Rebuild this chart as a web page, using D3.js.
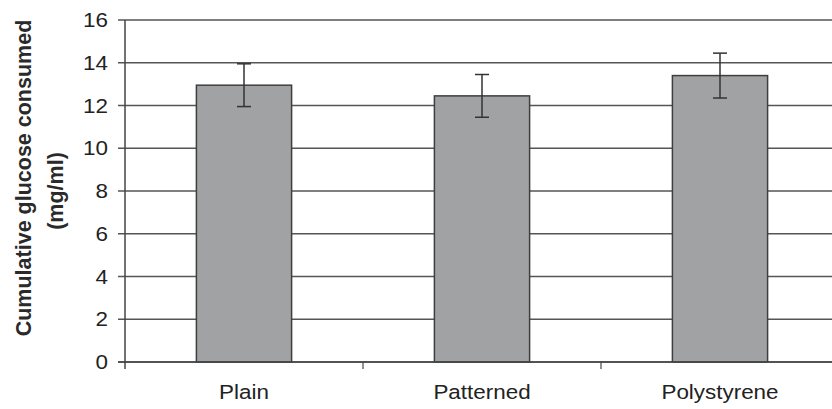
<!DOCTYPE html>
<html>
<head>
<meta charset="utf-8">
<script src="https://cdn.jsdelivr.net/npm/d3@7"></script>
<style>
  html, body { margin: 0; padding: 0; background: #fff; }
  svg { display: block; font-family: "Liberation Sans", Arial, sans-serif; }
</style>
</head>
<body>
<svg id="chart" width="832" height="409"></svg>
<script>
// Cumulative glucose consumed per substrate (mean ± error)
const categories = ["Plain", "Patterned", "Polystyrene"];
const means = [12.95, 12.45, 13.4];
const errors = [1.0, 1.0, 1.05];
const yTicks = [0, 2, 4, 6, 8, 10, 12, 14, 16];
const yLabelLines = ["Cumulative glucose consumed", "(mg/ml)"];

const svg = d3.select("#chart");
const plotLeft = 125, plotRight = 839, plotTop = 20, plotBottom = 362;

const x = d3.scaleBand()
  .domain(categories)
  .range([plotLeft, plotRight])
  .paddingInner(0.6)
  .paddingOuter(0.3);

const y = d3.scaleLinear().domain([0, 16]).range([plotBottom, plotTop]);

// horizontal gridlines with left tick marks
svg.append("g")
  .selectAll("line")
  .data(yTicks)
  .join("line")
  .attr("x1", plotLeft - 7)
  .attr("x2", 832)
  .attr("y1", d => y(d))
  .attr("y2", d => y(d))
  .attr("stroke", "#555")
  .attr("stroke-width", 1.5);

// y tick labels
svg.append("g")
  .selectAll("text")
  .data(yTicks)
  .join("text")
  .attr("x", 0)
  .attr("y", 0)
  .attr("transform", d => `translate(108,${y(d) + 7}) scale(1.15,1)`)
  .attr("text-anchor", "end")
  .attr("font-size", 19.5)
  .attr("fill", "#222")
  .text(d => d);

// y axis line
svg.append("line")
  .attr("x1", plotLeft).attr("x2", plotLeft)
  .attr("y1", plotTop).attr("y2", plotBottom + 7)
  .attr("stroke", "#444").attr("stroke-width", 1.5);

// category boundary ticks
const step = x.step();
const boundaries = categories.slice(1).map(c => x(c) - step * x.paddingInner() / 2);
svg.append("g")
  .selectAll("line")
  .data(boundaries)
  .join("line")
  .attr("x1", d => d).attr("x2", d => d)
  .attr("y1", plotBottom).attr("y2", plotBottom + 7)
  .attr("stroke", "#555").attr("stroke-width", 1.3);

// bars
svg.append("g")
  .selectAll("rect")
  .data(categories)
  .join("rect")
  .attr("x", d => x(d))
  .attr("y", (d, i) => y(means[i]))
  .attr("width", x.bandwidth())
  .attr("height", (d, i) => y(0) - y(means[i]))
  .attr("fill", "#a0a2a4")
  .attr("stroke", "#3e3e3e")
  .attr("stroke-width", 1.5);

// error bars
const eb = svg.append("g").attr("stroke", "#333").attr("stroke-width", 1.5);
categories.forEach((c, i) => {
  const cx = x(c) + x.bandwidth() / 2;
  const hi = y(means[i] + errors[i]);
  const lo = y(means[i] - errors[i]);
  eb.append("line").attr("x1", cx).attr("x2", cx).attr("y1", hi).attr("y2", lo);
  eb.append("line").attr("x1", cx - 7).attr("x2", cx + 7).attr("y1", hi).attr("y2", hi);
  eb.append("line").attr("x1", cx - 7).attr("x2", cx + 7).attr("y1", lo).attr("y2", lo);
});

// x axis baseline
svg.append("line")
  .attr("x1", plotLeft - 7).attr("x2", 832)
  .attr("y1", plotBottom).attr("y2", plotBottom)
  .attr("stroke", "#444").attr("stroke-width", 1.5);

// category labels
svg.append("g")
  .selectAll("text")
  .data(categories)
  .join("text")
  .attr("transform", d => `translate(${x(d) + x.bandwidth() / 2},399) scale(1.15,1)`)
  .attr("text-anchor", "middle")
  .attr("font-size", 19.5)
  .attr("fill", "#222")
  .text(d => d);

// y axis title, two rotated lines
svg.append("text")
  .attr("transform", "translate(31,178) rotate(-90)")
  .attr("text-anchor", "middle")
  .attr("font-size", 21.5)
  .attr("font-weight", "bold")
  .attr("fill", "#2a2a2a")
  .text(yLabelLines[0]);
svg.append("text")
  .attr("transform", "translate(63,191) rotate(-90)")
  .attr("text-anchor", "middle")
  .attr("font-size", 21.5)
  .attr("font-weight", "bold")
  .attr("fill", "#2a2a2a")
  .text(yLabelLines[1]);
</script>
</body>
</html>
